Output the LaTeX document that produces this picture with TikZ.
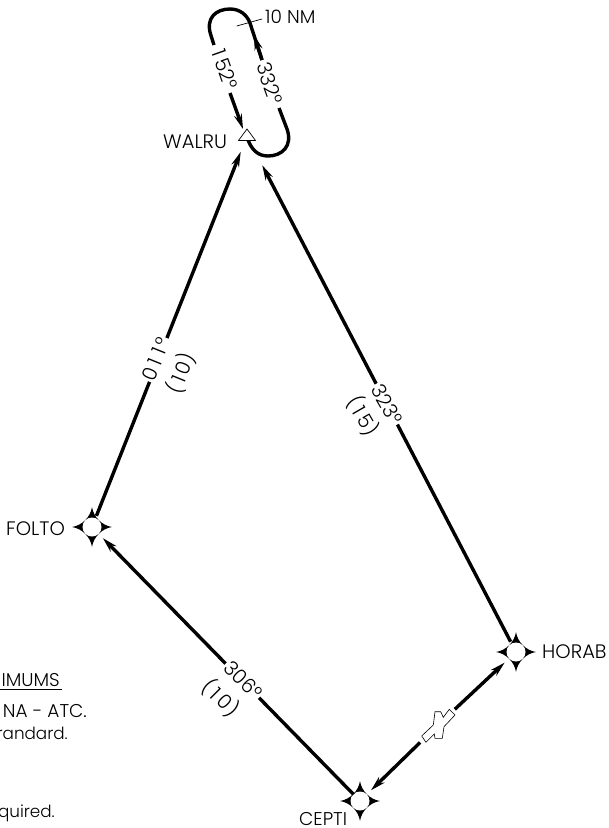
\documentclass[tikz,border=0pt]{standalone}
\usepackage{fontspec}
\setmainfont{Poppins}[UprightFont=* Light]
\usetikzlibrary{arrows.meta}
\newcommand{\onedigit}{\kern3pt 1\kern3pt }
\tikzset{
  x=1pt,y=-1pt,
  route/.style={line width=3.4pt,black},
  arr/.style={route,-{Stealth[length=15pt,width=8pt,inset=5pt]}},
  lab/.style={font=\fontsize{20}{20}\selectfont,inner sep=0.5pt},
  masklab/.style={lab,fill=white,inner sep=1.5pt},
  wptnode/.style={circle,fill=white,inner sep=0pt,minimum size=19pt},
  ptname/.style={font=\fontsize{19.5}{20}\selectfont,inner sep=0pt,anchor=base west},
  cut/.style={font=\fontsize{18.5}{19}\selectfont,inner sep=0pt,anchor=base east}
}
\newcommand{\wpt}[3]{%
  \fill[black,shift={(#2,#3)}] (0,-20) .. controls (1.5,-10) and (10,-1.5) .. (20,0)
    .. controls (10,1.5) and (1.5,10) .. (0,20)
    .. controls (-1.5,10) and (-10,1.5) .. (-20,0)
    .. controls (-10,-1.5) and (-1.5,-10) .. (0,-20) -- cycle;
  \node[wptnode] (#1) at (#2,#3) {};}
\begin{document}
\begin{tikzpicture}
\useasboundingbox (0,0) rectangle (609,828);
\wpt{FOLTO}{92}{527}
\wpt{HORAB}{516}{652}
\wpt{CEPTI}{360}{801}
\coordinate (WALRU) at (247,136);
\node[inner sep=0pt,minimum size=0pt] (plane) at (438,725) {};
% legs
\draw[arr,shorten <=12pt,shorten >=17pt] (FOLTO.center) -- (WALRU);
\draw[arr,shorten <=11.6pt,shorten >=33pt] (HORAB.center) -- (WALRU);
\draw[arr,shorten <=9.2pt,shorten >=15.6pt] (CEPTI.center) -- (FOLTO.center);
\draw[arr,shorten <=23pt,shorten >=15.6pt] (plane.center) -- (HORAB.center);
\draw[arr,shorten <=25pt,shorten >=15.4pt] (plane.center) -- (CEPTI.center);
% holding pattern
\draw[route] (214,45) -- (211,35.6) .. controls (205,18) and (216,9) .. (230,9)
  .. controls (240,9) and (247,15) .. (250,23) -- (262,60);
\draw[route] (279,108) -- (287,129) .. controls (293,146) and (282,156) .. (268,156)
  .. controls (258,156) and (252,150) .. (248,140);
\draw[arr] (230,93) -- (243,129);
\draw[arr] (262,60) -- (254,35);
\draw[line width=0.7pt] (236.7,26) -- (262,19);
% triangle
\draw[fill=white,line width=0.7pt] (247,129) -- (255.5,140.5) -- (238.5,140.5) -- cycle;
% plane
\draw[fill=white,line width=0.6pt] (421.7,736) -- (433.3,725) -- (435,711.7) -- (440.7,711.7) -- (443.3,717.3) -- (449.3,709.3) -- (455,715) -- (444,726.7) -- (442.3,738.3) -- (435,738.3) -- (434.3,734) -- (426,742.3) -- cycle;
% labels
\node[masklab,rotate=68] (l011) at (156,359) {0\onedigit\onedigit°};
\node[lab,rotate=68] (l10a) at (181,373) {(\onedigit 0\kern1pt)};
\node[masklab,rotate=-60] (l323) at (387,404) {323°};
\node[lab,rotate=-60] (l15) at (363,416) {(\onedigit 5\kern1pt)};
\node[masklab,rotate=-45] (l306) at (243,680) {306°};
\node[lab,rotate=-45] (l10b) at (221,698) {(\onedigit 0\kern1pt)};
\node[masklab,rotate=-70.5] (l152) at (225,68) {\onedigit 52°};
\node[masklab,rotate=-70.5] (l332) at (270,83) {332°};
% names
\node[ptname,font=\fontsize{18.5}{19}\selectfont] (n10) at (265,23) {10 NM};
\node[ptname] (nW) at (163,148.5) {WALRU};
\node[ptname] (nF) at (6,535) {FOLTO};
\node[ptname] (nH) at (542,658) {HORAB};
\node[ptname,font=\fontsize{18.5}{19}\selectfont] (nC) at (299,825.5) {CEPTI};
% cut-off notes
\node[cut] (c1) at (60,686) {IMUMS};
\draw[line width=0.6pt] (0,689) -- (62,689);
\node[cut] (c2) at (87,717) {NA - ATC.};
\node[cut,font=\fontsize{16.8}{19}\selectfont] (c3) at (68,739) {randard.};
\node[cut,font=\fontsize{16.8}{19}\selectfont] (c4) at (55,817) {quired.};
\end{tikzpicture}
\end{document}
